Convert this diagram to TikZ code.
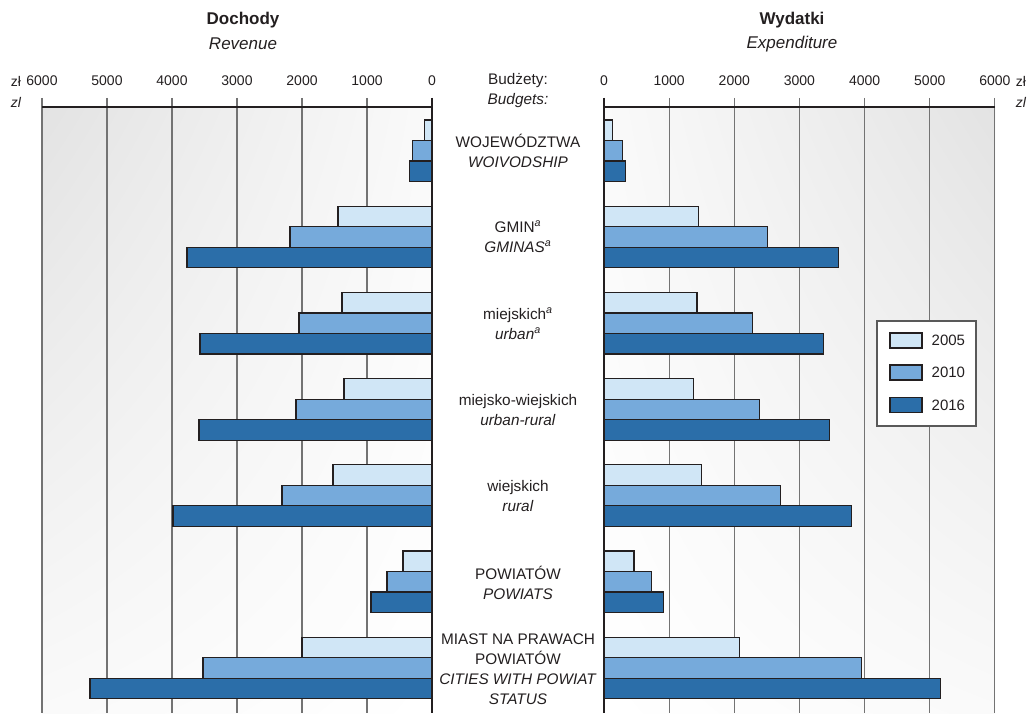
\documentclass[tikz,border=0pt]{standalone}
\usepackage{fontspec}
\setmainfont{Liberation Sans}
\usetikzlibrary{positioning,shadings}
\definecolor{y05}{HTML}{D0E6F6}
\definecolor{y10}{HTML}{76AADB}
\definecolor{y16}{HTML}{2B6EA9}
\definecolor{ink}{HTML}{231F20}

\begin{document}
\begin{tikzpicture}[x=0.75pt,y=-0.75pt,every node/.style={text=ink},
  bar/.style={draw=ink,line width=0.9pt},
  gridline/.style={draw=black!55,line width=0.8pt},
  axisline/.style={draw=ink,line width=0.9pt},
  ticklbl/.style={font=\fontsize{10.5}{12}\selectfont},
  grp/.style={align=center,font=\fontsize{11.5}{15}\selectfont},
  ttl/.style={font=\fontsize{12.75}{15}\selectfont}]
\useasboundingbox (0,0) rectangle (1030,713);

% shaded panels
\shade[upper left=black!11,upper right=black!2,lower left=black!2,lower right=white] (42,107) rectangle (432,713);
\shade[upper right=black!11,upper left=black!2,lower right=black!2,lower left=white] (604,107) rectangle (995,713);

% titles
\node[ttl,font=\bfseries\fontsize{12.75}{15}\selectfont] (doch) at (243,20) {Dochody};
\node[ttl,font=\itshape\fontsize{12.75}{15}\selectfont] (rev) at (243,44) {Revenue};
\node[ttl,font=\bfseries\fontsize{12.75}{15}\selectfont] (wyd) at (792,20) {Wydatki};
\node[ttl,font=\itshape\fontsize{12.75}{15}\selectfont] (exp) at (792,44) {Expenditure};
\node[grp] (budz) at (518,81) {Budżety:};
\node[grp,font=\itshape\fontsize{11.5}{15}\selectfont] (budg) at (518,101) {Budgets:};

% grid and ticks
\foreach \k in {0,...,6} {
  \pgfmathtruncatemacro\val{1000*\k}
  \draw[gridline] (432-65*\k,98) -- (432-65*\k,713);
  \draw[gridline] (604+65.15*\k,98) -- (604+65.15*\k,713);
  \node[ticklbl] (lt\k) at (432-65*\k,81) {\val};
  \node[ticklbl] (rt\k) at (604+65.15*\k,81) {\val};
}
\draw[axisline] (42,107) -- (432,107);
\draw[axisline] (604,107) -- (995,107);
\draw[axisline] (432,98) -- (432,713);
\draw[axisline] (604,98) -- (604,713);
\node[ticklbl] (zlL) at (16,81) {zł};
\node[ticklbl,font=\itshape\fontsize{10.5}{12}\selectfont] (zlLi) at (16,102) {zl};
\node[ticklbl] (zlR) at (1021,81) {zł};
\node[ticklbl,font=\itshape\fontsize{10.5}{12}\selectfont] (zlRi) at (1021,102) {zl};

% bars: group / revenue 2005 2010 2016 / expenditure 2005 2010 2016
\foreach \g/\a/\b/\c/\d/\e/\f in {
  1/110/300/350/135/290/325,
  2/1446/2185/3770/1446/2508/3600,
  3/1385/2046/3570/1430/2277/3370,
  4/1354/2092/3585/1370/2385/3460,
  5/1523/2308/3985/1492/2708/3800,
  6/446/692/938/460/725/910,
  7/2000/3523/5262/2077/3954/5170} {
  \pgfmathsetmacro\t{120+86.2*(\g-1)}
  \draw[bar,fill=y05] (432-0.065*\a,\t) rectangle (432,\t+20.5);
  \draw[bar,fill=y10] (432-0.065*\b,\t+20.5) rectangle (432,\t+41);
  \draw[bar,fill=y16] (432-0.065*\c,\t+41) rectangle (432,\t+61.5);
  \draw[bar,fill=y05] (604,\t) rectangle (604+0.0651*\d,\t+20.5);
  \draw[bar,fill=y10] (604,\t+20.5) rectangle (604+0.0651*\e,\t+41);
  \draw[bar,fill=y16] (604,\t+41) rectangle (604+0.0651*\f,\t+61.5);
}

% group labels
\node[grp] (g1) at (518,151) {WOJEWÓDZTWA\\\textit{WOIVODSHIP}};
\node[grp] (g2) at (518,237) {GMIN\textsuperscript{\textit{a}}\\\textit{GMINAS\textsuperscript{a}}};
\node[grp] (g3) at (518,323.5) {miejskich\textsuperscript{\textit{a}}\\\textit{urban\textsuperscript{a}}};
\node[grp] (g4) at (518,410) {miejsko-wiejskich\\\textit{urban-rural}};
\node[grp] (g5) at (518,496) {wiejskich\\\textit{rural}};
\node[grp] (g6) at (518,582.5) {POWIATÓW\\\textit{POWIATS}};
\node[grp] (g7) at (518,669) {MIAST NA PRAWACH\\POWIATÓW\\\textit{CITIES WITH POWIAT}\\\textit{STATUS}};

% legend
\draw[draw=black!65,fill=white,line width=0.8pt] (877,321) rectangle (976,426);
\foreach \n/\yy/\col in {2005/340.5/y05,2010/372.5/y10,2016/405/y16} {
  \draw[draw=ink,line width=0.8pt,fill=\col] (890,\yy-7.5) rectangle (922,\yy+7.5);
  \node[grp,font=\fontsize{11.25}{13}\selectfont,anchor=west] (leg\n) at (927,\yy) {\n};
}
\end{tikzpicture}
\end{document}
